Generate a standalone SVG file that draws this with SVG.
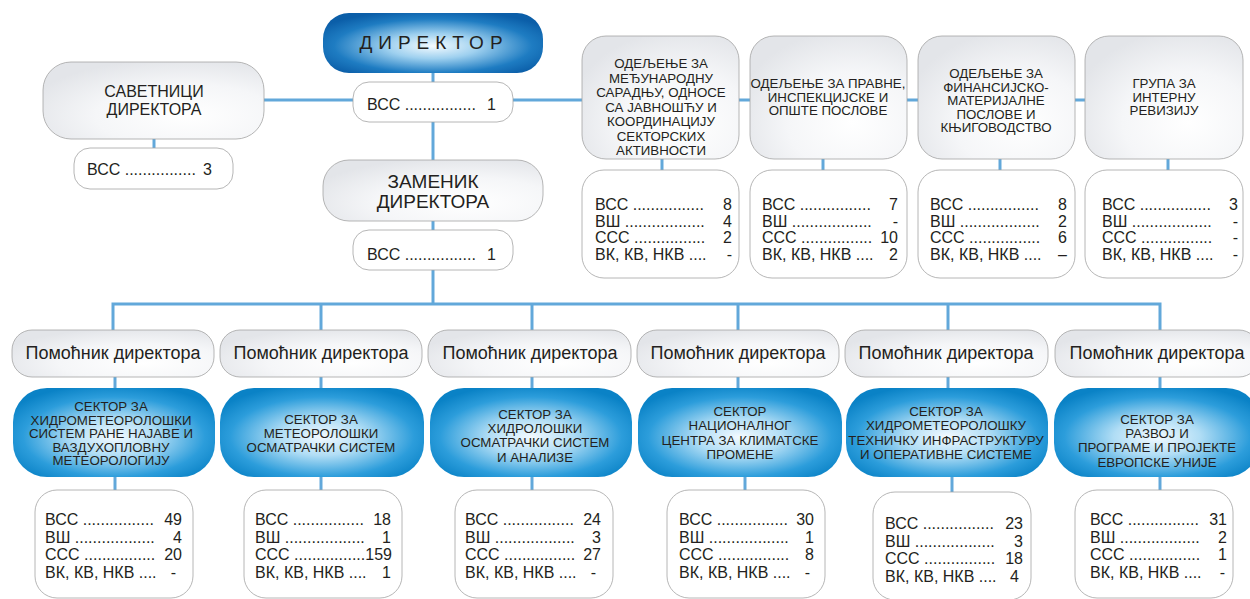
<svg xmlns="http://www.w3.org/2000/svg" width="1250" height="599" viewBox="0 0 1250 599">
<defs>
<radialGradient id="gBlue" cx="50%" cy="55%" r="60%">
<stop offset="0" stop-color="#f3faff"/>
<stop offset="0.35" stop-color="#b0ddf5"/>
<stop offset="0.75" stop-color="#2c9ddb"/>
<stop offset="1" stop-color="#0a82c6"/>
</radialGradient>
<radialGradient id="gDir" cx="50%" cy="55%" r="60%">
<stop offset="0" stop-color="#f4fbff"/>
<stop offset="0.35" stop-color="#9ed0ef"/>
<stop offset="0.75" stop-color="#1e7cc2"/>
<stop offset="1" stop-color="#0b5ea8"/>
</radialGradient>
<radialGradient id="gGray" cx="65%" cy="70%" r="75%">
<stop offset="0" stop-color="#ffffff"/>
<stop offset="0.55" stop-color="#f5f6f8"/>
<stop offset="1" stop-color="#e3e5e9"/>
</radialGradient>
<style>
.ln{stroke:#62a8da;stroke-width:3;fill:none}
.gb{fill:url(#gGray);stroke:#a3a3a3;stroke-width:0.8}
.wb{fill:#ffffff;stroke:#a3a3a3;stroke-width:0.8}
.bb{fill:url(#gBlue);stroke:none}
.db{fill:url(#gDir);stroke:none}
text{font-family:"Liberation Sans",Arial,sans-serif;fill:#231f20}
.c{text-anchor:middle}
.e{text-anchor:end}
.s13{font-size:13.3px}
.s16{font-size:16px}
.h{font-size:19px}
.p{font-size:18px;text-anchor:middle}
</style>
</defs>
<g id="connectors">
<line class="ln" x1="264" y1="100" x2="1086" y2="100"/>
<line class="ln" x1="433" y1="72" x2="433" y2="83"/>
<line class="ln" x1="433" y1="121" x2="433" y2="161"/>
<line class="ln" x1="433" y1="220" x2="433" y2="231"/>
<line class="ln" x1="433" y1="269" x2="433" y2="304"/>
<line class="ln" x1="154" y1="138" x2="154" y2="149"/>
<line class="ln" x1="662" y1="158" x2="662" y2="171"/>
<line class="ln" x1="823" y1="158" x2="823" y2="171"/>
<line class="ln" x1="1000" y1="158" x2="1000" y2="171"/>
<line class="ln" x1="1168" y1="158" x2="1168" y2="171"/>
<polyline class="ln" points="113,331 113,304 1160,304 1160,331"/>
<line class="ln" x1="321" y1="304" x2="321" y2="331"/>
<line class="ln" x1="532" y1="304" x2="532" y2="331"/>
<line class="ln" x1="738" y1="304" x2="738" y2="331"/>
<line class="ln" x1="948" y1="304" x2="948" y2="331"/>
<line class="ln" x1="115" y1="376" x2="115" y2="389"/>
<line class="ln" x1="321" y1="376" x2="321" y2="389"/>
<line class="ln" x1="532" y1="376" x2="532" y2="389"/>
<line class="ln" x1="738" y1="376" x2="738" y2="389"/>
<line class="ln" x1="948" y1="376" x2="948" y2="389"/>
<line class="ln" x1="1160" y1="376" x2="1160" y2="389"/>
<line class="ln" x1="115" y1="476" x2="115" y2="491"/>
<line class="ln" x1="321" y1="476" x2="321" y2="491"/>
<line class="ln" x1="532" y1="476" x2="532" y2="491"/>
<line class="ln" x1="745" y1="476" x2="745" y2="491"/>
<line class="ln" x1="952" y1="476" x2="952" y2="493"/>
<line class="ln" x1="1160" y1="476" x2="1160" y2="491"/>
</g>
<g id="director">
<rect class="db" x="323" y="13" width="220" height="60" rx="26"/>
<text class="h c" x="434" y="49" letter-spacing="6">ДИРЕКТОР</text>
</g>
<g id="director-staff">
<rect class="wb" x="353" y="82" width="160" height="40" rx="16"/>
<text class="s16" x="367" y="110">ВСС ................</text>
<text class="s16 e" x="496" y="110">1</text>
</g>
<g id="advisers">
<rect class="gb" x="43" y="62" width="221" height="77" rx="28"/>
<text class="s16 c" x="154" y="97">САВЕТНИЦИ</text>
<text class="s16 c" x="154" y="115">ДИРЕКТОРА</text>
</g>
<g id="advisers-staff">
<rect class="wb" x="74" y="148" width="159" height="41" rx="16"/>
<text class="s16" x="87" y="175">ВСС ................</text>
<text class="s16 e" x="212" y="175">3</text>
</g>
<g id="deputy">
<rect class="gb" x="323" y="160" width="220" height="61" rx="26"/>
<text class="h c" x="433" y="188">ЗАМЕНИК</text>
<text class="h c" x="433" y="208">ДИРЕКТОРА</text>
</g>
<g id="deputy-staff">
<rect class="wb" x="353" y="230" width="160" height="40" rx="16"/>
<text class="s16" x="367" y="260">ВСС ................</text>
<text class="s16 e" x="496" y="260">1</text>
</g>
<g id="dept1">
<rect class="gb" x="582" y="36" width="157" height="123" rx="24"/>
<text class="s13 c" x="661" y="68">ОДЕЉЕЊЕ ЗА</text>
<text class="s13 c" x="661" y="82.5">МЕЂУНАРОДНУ</text>
<text class="s13 c" x="661" y="97">САРАДЊУ, ОДНОСЕ</text>
<text class="s13 c" x="661" y="111.5">СА ЈАВНОШЋУ И</text>
<text class="s13 c" x="661" y="126">КООРДИНАЦИЈУ</text>
<text class="s13 c" x="661" y="140.5">СЕКТОРСКИХ</text>
<text class="s13 c" x="661" y="155">АКТИВНОСТИ</text>
</g>
<g id="dept2">
<rect class="gb" x="750" y="36" width="157" height="123" rx="24"/>
<text class="s13 c" x="828" y="88">ОДЕЉЕЊЕ ЗА ПРАВНЕ,</text>
<text class="s13 c" x="828" y="101.5">ИНСПЕКЦИЈСКЕ И</text>
<text class="s13 c" x="828" y="115">ОПШТЕ ПОСЛОВЕ</text>
</g>
<g id="dept3">
<rect class="gb" x="918" y="36" width="157" height="123" rx="24"/>
<text class="s13 c" x="996" y="78">ОДЕЉЕЊЕ ЗА</text>
<text class="s13 c" x="996" y="91.5">ФИНАНСИЈСКО-</text>
<text class="s13 c" x="996" y="105">МАТЕРИЈАЛНЕ</text>
<text class="s13 c" x="996" y="118.5">ПОСЛОВЕ И</text>
<text class="s13 c" x="996" y="132">КЊИГОВОДСТВО</text>
</g>
<g id="dept4">
<rect class="gb" x="1085" y="36" width="158" height="123" rx="24"/>
<text class="s13 c" x="1164" y="88">ГРУПА ЗА</text>
<text class="s13 c" x="1164" y="101.5">ИНТЕРНУ</text>
<text class="s13 c" x="1164" y="115">РЕВИЗИЈУ</text>
</g>
<g id="dept1-staff">
<rect class="wb" x="582" y="170" width="157" height="108" rx="22"/>
<text class="s16" x="595" y="210">ВСС ................</text><text class="s16 e" x="732" y="210">8</text>
<text class="s16" x="595" y="226.7">ВШ ..................</text><text class="s16 e" x="732" y="226.7">4</text>
<text class="s16" x="595" y="243.4">ССС ................</text><text class="s16 e" x="732" y="243.4">2</text>
<text class="s16" x="595" y="260">ВК, КВ, НКВ ....</text><text class="s16 e" x="732" y="260">-</text>
</g>
<g id="dept2-staff">
<rect class="wb" x="750" y="170" width="157" height="108" rx="22"/>
<text class="s16" x="762" y="210">ВСС ................</text><text class="s16 e" x="898" y="210">7</text>
<text class="s16" x="762" y="226.7">ВШ ..................</text><text class="s16 e" x="898" y="226.7">-</text>
<text class="s16" x="762" y="243.4">ССС ................</text><text class="s16 e" x="898" y="243.4">10</text>
<text class="s16" x="762" y="260">ВК, КВ, НКВ ....</text><text class="s16 e" x="898" y="260">2</text>
</g>
<g id="dept3-staff">
<rect class="wb" x="918" y="170" width="157" height="108" rx="22"/>
<text class="s16" x="930" y="210">ВСС ................</text><text class="s16 e" x="1067" y="210">8</text>
<text class="s16" x="930" y="226.7">ВШ ..................</text><text class="s16 e" x="1067" y="226.7">2</text>
<text class="s16" x="930" y="243.4">ССС ................</text><text class="s16 e" x="1067" y="243.4">6</text>
<text class="s16" x="930" y="260">ВК, КВ, НКВ ....</text><text class="s16 e" x="1067" y="260">–</text>
</g>
<g id="dept4-staff">
<rect class="wb" x="1085" y="170" width="158" height="108" rx="22"/>
<text class="s16" x="1102" y="210">ВСС ................</text><text class="s16 e" x="1238" y="210">3</text>
<text class="s16" x="1102" y="226.7">ВШ ..................</text><text class="s16 e" x="1238" y="226.7">-</text>
<text class="s16" x="1102" y="243.4">ССС ................</text><text class="s16 e" x="1238" y="243.4">-</text>
<text class="s16" x="1102" y="260">ВК, КВ, НКВ ....</text><text class="s16 e" x="1238" y="260">-</text>
</g>
<g id="assistant1"><rect class="gb" x="12" y="330" width="202" height="47" rx="20"/><text class="p" x="113" y="359">Помоћник директора</text></g>
<g id="assistant2"><rect class="gb" x="220" y="330" width="202" height="47" rx="20"/><text class="p" x="321" y="359">Помоћник директора</text></g>
<g id="assistant3"><rect class="gb" x="428" y="330" width="203" height="47" rx="20"/><text class="p" x="530" y="359">Помоћник директора</text></g>
<g id="assistant4"><rect class="gb" x="637" y="330" width="202" height="47" rx="20"/><text class="p" x="738" y="359">Помоћник директора</text></g>
<g id="assistant5"><rect class="gb" x="845" y="330" width="203" height="47" rx="20"/><text class="p" x="946" y="359">Помоћник директора</text></g>
<g id="assistant6"><rect class="gb" x="1055" y="330" width="204" height="47" rx="20"/><text class="p" x="1157" y="359">Помоћник директора</text></g>
<g id="sector1">
<rect class="bb" x="13" y="388" width="202" height="89" rx="34"/>
<text class="s13 c" x="111" y="411">СЕКТОР ЗА</text>
<text class="s13 c" x="111" y="424.5">ХИДРОМЕТЕОРОЛОШКИ</text>
<text class="s13 c" x="111" y="438">СИСТЕМ РАНЕ НАЈАВЕ И</text>
<text class="s13 c" x="111" y="451.5">ВАЗДУХОПЛОВНУ</text>
<text class="s13 c" x="111" y="465">МЕТЕОРОЛОГИЈУ</text>
</g>
<g id="sector2">
<rect class="bb" x="220" y="388" width="204" height="89" rx="34"/>
<text class="s13 c" x="321" y="423.7">СЕКТОР ЗА</text>
<text class="s13 c" x="321" y="437.7">МЕТЕОРОЛОШКИ</text>
<text class="s13 c" x="321" y="451.7">ОСМАТРАЧКИ СИСТЕМ</text>
</g>
<g id="sector3">
<rect class="bb" x="430" y="388" width="202" height="89" rx="34"/>
<text class="s13 c" x="535" y="418.7">СЕКТОР ЗА</text>
<text class="s13 c" x="535" y="433">ХИДРОЛОШКИ</text>
<text class="s13 c" x="535" y="447.3">ОСМАТРАЧКИ СИСТЕМ</text>
<text class="s13 c" x="535" y="461.6">И АНАЛИЗЕ</text>
</g>
<g id="sector4">
<rect class="bb" x="638" y="388" width="204" height="89" rx="34"/>
<text class="s13 c" x="740" y="415.7">СЕКТОР</text>
<text class="s13 c" x="740" y="430.2">НАЦИОНАЛНОГ</text>
<text class="s13 c" x="740" y="444.7">ЦЕНТРА ЗА КЛИМАТСКЕ</text>
<text class="s13 c" x="740" y="459">ПРОМЕНЕ</text>
</g>
<g id="sector5">
<rect class="bb" x="846" y="388" width="202" height="89" rx="34"/>
<text class="s13 c" x="946" y="415.7">СЕКТОР ЗА</text>
<text class="s13 c" x="946" y="430.2">ХИДРОМЕТЕОРОЛОШКУ</text>
<text class="s13 c" x="946" y="444.7">ТЕХНИЧКУ ИНФРАСТРУКТУРУ</text>
<text class="s13 c" x="946" y="459">И ОПЕРАТИВНЕ СИСТЕМЕ</text>
</g>
<g id="sector6">
<rect class="bb" x="1054" y="388" width="206" height="89" rx="34"/>
<text class="s13 c" x="1157" y="423.7">СЕКТОР ЗА</text>
<text class="s13 c" x="1157" y="438">РАЗВОЈ И</text>
<text class="s13 c" x="1157" y="452.3">ПРОГРАМЕ И ПРОЈЕКТЕ</text>
<text class="s13 c" x="1157" y="466.6">ЕВРОПСКЕ УНИЈЕ</text>
</g>
<g id="sector1-staff">
<rect class="wb" x="35" y="490" width="158" height="108" rx="22"/>
<text class="s16" x="45" y="525">ВСС ................</text><text class="s16 e" x="182" y="525">49</text>
<text class="s16" x="45" y="542.7">ВШ ..................</text><text class="s16 e" x="182" y="542.7">4</text>
<text class="s16" x="45" y="560.4">ССС ................</text><text class="s16 e" x="182" y="560.4">20</text>
<text class="s16" x="45" y="578">ВК, КВ, НКВ ....</text><text class="s16 e" x="176" y="578">-</text>
</g>
<g id="sector2-staff">
<rect class="wb" x="244" y="490" width="158" height="108" rx="22"/>
<text class="s16" x="255" y="525">ВСС ................</text><text class="s16 e" x="391" y="525">18</text>
<text class="s16" x="255" y="542.7">ВШ ..................</text><text class="s16 e" x="391" y="542.7">1</text>
<text class="s16" x="255" y="560.4">ССС ................159</text>
<text class="s16" x="255" y="578">ВК, КВ, НКВ ....</text><text class="s16 e" x="391" y="578">1</text>
</g>
<g id="sector3-staff">
<rect class="wb" x="455" y="490" width="158" height="108" rx="22"/>
<text class="s16" x="465" y="525">ВСС ................</text><text class="s16 e" x="601" y="525">24</text>
<text class="s16" x="465" y="542.7">ВШ ..................</text><text class="s16 e" x="601" y="542.7">3</text>
<text class="s16" x="465" y="560.4">ССС ................</text><text class="s16 e" x="601" y="560.4">27</text>
<text class="s16" x="465" y="578">ВК, КВ, НКВ ....</text><text class="s16 e" x="596" y="578">-</text>
</g>
<g id="sector4-staff">
<rect class="wb" x="667" y="490" width="158" height="108" rx="22"/>
<text class="s16" x="679" y="525">ВСС ................</text><text class="s16 e" x="814" y="525">30</text>
<text class="s16" x="679" y="542.7">ВШ ..................</text><text class="s16 e" x="814" y="542.7">1</text>
<text class="s16" x="679" y="560.4">ССС ................</text><text class="s16 e" x="814" y="560.4">8</text>
<text class="s16" x="679" y="578">ВК, КВ, НКВ ....</text><text class="s16 e" x="810" y="578">-</text>
</g>
<g id="sector5-staff">
<rect class="wb" x="873" y="492" width="158" height="108" rx="22"/>
<text class="s16" x="885" y="529">ВСС ................</text><text class="s16 e" x="1023" y="529">23</text>
<text class="s16" x="885" y="546.7">ВШ ..................</text><text class="s16 e" x="1023" y="546.7">3</text>
<text class="s16" x="885" y="564.4">ССС ................</text><text class="s16 e" x="1023" y="564.4">18</text>
<text class="s16" x="885" y="582">ВК, КВ, НКВ ....</text><text class="s16 e" x="1019" y="582">4</text>
</g>
<g id="sector6-staff">
<rect class="wb" x="1075" y="490" width="158" height="108" rx="22"/>
<text class="s16" x="1090" y="525">ВСС ................</text><text class="s16 e" x="1227" y="525">31</text>
<text class="s16" x="1090" y="542.7">ВШ ..................</text><text class="s16 e" x="1227" y="542.7">2</text>
<text class="s16" x="1090" y="560.4">ССС ................</text><text class="s16 e" x="1227" y="560.4">1</text>
<text class="s16" x="1090" y="578">ВК, КВ, НКВ ....</text><text class="s16 e" x="1225" y="578">-</text>
</g>
</svg>
